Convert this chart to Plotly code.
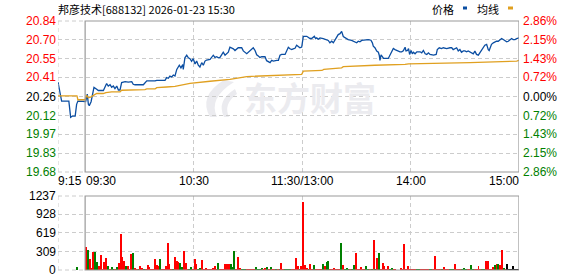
import plotly.graph_objects as go

W, H = 578, 276

title_text = "邦彦技术[688132] 2026-01-23 15:30"
prev_close = 20.26
pct_levels = [2.86, 2.15, 1.43, 0.72, 0.00, -0.72, -1.43, -2.15, -2.86]
price_labels = ["20.84", "20.70", "20.55", "20.41", "20.26", "20.12", "19.97", "19.83", "19.68"]
vol_ticks = [0, 309, 619, 928, 1237]
time_pos = [0, 15, 75, 135, 195, 255]
time_labels = ["9:15", "09:30", "10:30", "11:30/13:00", "14:00", "15:00"]
legend_labels = ["价格", "均线"]
watermark = "东方财富"

# minutes since 9:15 (lunch break collapsed at 135)
price_t = [0, 1, 2, 6, 7, 8, 9.5, 10.3, 11, 15.3, 16.2, 16.8, 17.3, 18.3, 19.2, 19.9, 21.4, 22.3,
           25.1, 26, 26.9, 27.8, 28.8, 29.7, 30.6, 31.5, 32.5, 33.4, 34.3, 35.2, 37.1, 38.9, 40.8,
           41.6, 42.6, 47.2, 48.1, 49.1, 53.7, 54.6, 59.2, 60.1, 61, 61.9, 62.9, 63.8, 64.7, 65.7,
           67.1, 68, 69, 69.3, 70.2, 71.2, 72.1, 73, 73.9, 74.8, 75.8, 76.7, 77.6, 78.5, 79.5,
           80.4, 81.3, 82.2, 84.1, 85, 85.9, 86.8, 87.8, 88.7, 89.6, 90.5, 91.4, 92.4, 93.3, 94.2,
           95.1, 96.1, 97, 97.9, 98.8, 99.7, 101.6, 102.5, 104.4, 105.3, 107.1, 108, 109, 109.9,
           110.8, 111.7, 112.7, 114.5, 115.4, 117.3, 118.2, 119.1, 121, 121.9, 122.8, 123.7,
           125.6, 126.5, 127.4, 128.3, 129.3, 130.1, 131.1, 132, 132.9, 133.8, 134.8, 135.7,
           137.6, 138.5, 139.4, 140.3, 141.2, 141.8, 142.5, 143.1, 144, 144.9, 146.7, 148.6,
           149.5, 150.4, 151.4, 152.3, 154.1, 155, 156, 156.9, 157.8, 158.7, 159.7, 160.5, 162.4,
           164.3, 165.2, 166.1, 167, 168, 169.8, 171.6, 173.1, 173.9, 174.4, 175.3, 176.3, 177.2,
           177.7, 178.1, 178.7, 179.4, 180.1, 182.7, 184.2, 185.5, 186.4, 187.3, 189.2, 190.1,
           191, 192, 192.5, 193.3, 193.9, 194.5, 195.3, 196, 196.6, 197.5, 198.5, 200.3, 201.2,
           202.1, 203.1, 204, 204.9, 205.8, 206.8, 207.7, 209.2, 209.8, 210.9, 212.2, 213.1, 215,
           216.8, 217.8, 218.6, 219.6, 220.5, 221.4, 222.3, 223.2, 224.2, 225.1, 226, 226.9,
           227.9, 228.8, 229.7, 230.6, 231.5, 232.5, 233.4, 234.3, 235.2, 236.1, 237.1, 237.4,
           238, 238.5, 239.3, 239.8, 240.8, 241.7, 242.6, 243.5, 244.5, 245.4, 246.3, 247.2,
           248.2, 249.1, 250, 250.9, 251.8, 252.8, 253.7, 255]
price_v = [20.37, 20.30, 20.225, 20.225, 20.10, 20.11, 20.11, 20.20, 20.225, 20.222, 20.278, 20.20,
           20.19, 20.22, 20.30, 20.33, 20.316, 20.306, 20.306, 20.34, 20.36, 20.34, 20.35, 20.33,
           20.34, 20.32, 20.34, 20.31, 20.31, 20.367, 20.374, 20.37, 20.374, 20.354, 20.35,
           20.35, 20.367, 20.38, 20.38, 20.384, 20.384, 20.405, 20.40, 20.417, 20.41, 20.425,
           20.417, 20.468, 20.50, 20.48, 20.506, 20.468, 20.557, 20.577, 20.557, 20.55, 20.53,
           20.55, 20.51, 20.532, 20.50, 20.486, 20.52, 20.50, 20.532, 20.54, 20.545, 20.56,
           20.577, 20.56, 20.565, 20.557, 20.56, 20.58, 20.60, 20.577, 20.587, 20.60, 20.638,
           20.634, 20.626, 20.613, 20.626, 20.634, 20.634, 20.61, 20.588, 20.60, 20.62, 20.634,
           20.613, 20.58, 20.57, 20.56, 20.565, 20.565, 20.535, 20.52, 20.537, 20.532, 20.537,
           20.537, 20.577, 20.583, 20.583, 20.61, 20.638, 20.626, 20.62, 20.626, 20.63, 20.654,
           20.645, 20.634, 20.64, 20.722, 20.722, 20.715, 20.705, 20.705, 20.715, 20.722, 20.705,
           20.71, 20.70, 20.71, 20.705, 20.697, 20.69, 20.672, 20.684, 20.672, 20.715, 20.735,
           20.742, 20.76, 20.72, 20.71, 20.705, 20.697, 20.69, 20.68, 20.672, 20.684, 20.68,
           20.69, 20.692, 20.697, 20.692, 20.672, 20.646, 20.634, 20.608, 20.60, 20.577, 20.537,
           20.58, 20.57, 20.552, 20.552, 20.588, 20.628, 20.62, 20.613, 20.603, 20.603, 20.61,
           20.638, 20.61, 20.613, 20.628, 20.583, 20.613, 20.588, 20.60, 20.588, 20.603, 20.603,
           20.595, 20.613, 20.588, 20.583, 20.595, 20.583, 20.577, 20.577, 20.583, 20.62, 20.634,
           20.628, 20.634, 20.628, 20.634, 20.634, 20.62, 20.628, 20.634, 20.61, 20.62, 20.60,
           20.61, 20.61, 20.603, 20.61, 20.603, 20.595, 20.588, 20.608, 20.583, 20.577, 20.595,
           20.62, 20.634, 20.654, 20.66, 20.638, 20.62, 20.613, 20.638, 20.66, 20.672, 20.68,
           20.684, 20.684, 20.697, 20.705, 20.697, 20.69, 20.68, 20.684, 20.697, 20.705, 20.697,
           20.697, 20.705, 20.71]

avg_t = [0, 10.5, 11, 15, 15.8, 16.8, 18, 19.5, 21.4, 25, 26.5, 29.7, 34.3, 35.2, 41.6, 42.6, 48.1,
         49.1, 53.7, 54.6, 59.2, 60.1, 64.7, 73, 84.1, 91.3, 95.1, 104.4, 115.4, 134.8, 135.7,
         146, 147, 156.9, 157.8, 174.4, 175.3, 192, 193.9, 227.9, 245.4, 253.7, 255]
avg_v = [20.265, 20.265, 20.235, 20.235, 20.27, 20.25, 20.255, 20.27, 20.283, 20.283, 20.29,
         20.295, 20.295, 20.308, 20.308, 20.313, 20.313, 20.318, 20.318, 20.328, 20.328, 20.333,
         20.338, 20.36, 20.377, 20.384, 20.392, 20.413, 20.42, 20.43, 20.455, 20.46, 20.468,
         20.48, 20.489, 20.494, 20.50, 20.506, 20.511, 20.52, 20.527, 20.532, 20.537]

vol_t = [11, 16, 17, 18, 19, 20, 21, 22, 23, 24, 25, 26, 27, 28, 29, 30, 31, 32, 33, 34, 35, 36, 37,
         38, 39, 40, 41, 42, 43, 44, 45, 46, 47, 48, 49, 50, 51, 52, 53, 54, 55, 56, 57, 58, 59, 60,
         61, 62, 63, 64, 65, 66, 67, 68, 69, 70, 71, 72, 73, 74, 75, 76, 77, 78, 79, 80, 81, 82, 83,
         84, 85, 86, 87, 88, 89, 90, 91, 92, 93, 94, 95, 96, 97, 98, 99, 100, 101, 102, 103, 104,
         105, 106, 107, 108, 109, 110, 111, 112, 113, 114, 115, 116, 117, 118, 119, 120, 121, 122,
         123, 124, 125, 126, 127, 128, 129, 130, 131, 132, 133, 134, 135, 136, 137, 138, 139, 140,
         141, 142, 143, 144, 145, 146, 147, 148, 149, 150, 151, 152, 153, 154, 155, 156, 157, 158,
         159, 160, 161, 162, 163, 164, 165, 166, 167, 168, 169, 170, 171, 172, 173, 174, 175, 176,
         177, 178, 179, 180, 181, 182, 183, 184, 185, 186, 187, 190, 191, 192, 193, 194, 195, 196,
         197, 198, 199, 200, 201, 202, 203, 204, 205, 206, 207, 208, 209, 210, 211, 212, 213, 214,
         215, 216, 217, 218, 219, 220, 221, 222, 223, 224, 225, 226, 227, 228, 229, 230, 231, 232,
         233, 234, 235, 236, 237, 238, 239, 240, 241, 242, 243, 244, 245, 246, 247, 248, 249, 250,
         251, 252, 253, 254, 255]
vol_v = [45, 378, 334, 184, 33, 300, 300, 134, 67, 250, 15, 134, 200, 67, 15, 50, 15, 15, 50, 117,
         600, 217, 150, 67, 67, 15, 267, 284, 33, 15, 15, 67, 33, 15, 15, 83, 50, 15, 15, 184, 83,
         67, 184, 15, 15, 67, 450, 100, 15, 15, 217, 150, 134, 117, 50, 317, 117, 15, 15, 50, 15,
         184, 100, 15, 33, 167, 15, 33, 15, 15, 15, 33, 67, 15, 117, 15, 15, 15, 100, 100, 100,
         100, 50, 317, 15, 217, 33, 15, 15, 15, 15, 15, 15, 15, 15, 50, 15, 15, 33, 15, 33, 50, 15,
         50, 15, 15, 15, 15, 15, 117, 15, 15, 15, 15, 15, 15, 15, 200, 67, 15, 67, 1140, 77, 20,
         15, 100, 15, 77, 15, 15, 15, 15, 100, 67, 134, 150, 15, 15, 30, 15, 15, 15, 450, 83, 15,
         30, 15, 15, 15, 83, 284, 15, 15, 50, 15, 15, 67, 15, 15, 15, 500, 15, 200, 284, 15, 117,
         67, 15, 67, 15, 33, 15, 15, 33, 15, 434, 15, 67, 15, 15, 15, 15, 15, 15, 15, 15, 15, 15,
         15, 15, 15, 15, 234, 15, 15, 15, 15, 50, 15, 15, 15, 15, 15, 100, 15, 15, 15, 15, 33, 15,
         15, 15, 83, 15, 15, 15, 67, 15, 15, 15, 150, 150, 15, 15, 50, 83, 100, 100, 83, 334, 33,
         15, 100, 15, 15, 67, 15, 15, 15, 317]
vol_up = [0, 1, 0, 1, 1, 1, 0, 0, 1, 1, 1, 1, 1, 0, 1, 0, 0, 1, 0, 1, 1, 1, 1, 0, 1, 1, 1, 0, 1, 1,
          0, 1, 1, 0, 1, 1, 1, 1, 1, 1, 1, 1, 0, 1, 1, 1, 1, 1, 1, 0, 1, 1, 1, 0, 0, 1, 1, 1, 0, 0,
          1, 1, 1, 0, 0, 1, 1, 1, 1, 1, 1, 1, 1, 1, 0, 1, 1, 1, 1, 1, 1, 0, 0, 0, 1, 1, 1, 0, 0, 0,
          1, 1, 1, 1, 1, 0, 0, 0, 0, 1, 1, 0, 1, 0, 1, 1, 0, 1, 0, 1, 1, 0, 0, 0, 0, 1, 1, 1, 1, 0,
          1, 1, 1, 1, 0, 1, 1, 0, 1, 1, 1, 1, 0, 1, 0, 0, 1, 1, 1, 1, 1, 1, 0, 1, 0, 0, 0, 1, 0, 0,
          1, 1, 1, 1, 1, 1, 0, 0, 1, 0, 1, 0, 1, 0, 1, 1, 1, 1, 1, 0, 0, 1, 1, 1, 1, 1, 1, 1, 1, 1,
          1, 1, 0, 0, 1, 1, 1, 1, 1, 0, 0, 1, 1, 1, 1, 1, 0, 1, 1, 1, 0, 0, 0, 1, 1, 1, 1, 0, 0, 0,
          1, 1, 0, 0, 1, 1, 1, 1, 0, 0, 1, 1, 1, 1, 1, 0, 1, 0, 1, 1, 0, 1]

RED, GREEN, BLACK = "#ff0000", "#008000", "#000000"
BLUE, GOLD = "#0b4ea2", "#e0a020"
GRID, FRAME = "#cccccc", "#999999"
WM = "#ebebef"
FONT = "Arial, Liberation Sans, sans-serif"
CJK = "Noto Sans CJK SC, sans-serif"


def px(x):
    return x / W


def py(y):
    return 1 - y / H


LEFT, RIGHT = 58, 519
P_TOP, P_BOT = 21, 172
V_TOP, V_BOT = 196, 270

price_levels = [prev_close * (1 + p / 100) for p in pct_levels]
p_lo, p_hi = min(price_levels), max(price_levels)
t_open, t_close = time_pos[1], time_pos[-1]

fig = go.Figure()
fig.add_trace(go.Scatter(x=price_t, y=price_v, mode="lines", line=dict(color=BLUE, width=1.3),
                         xaxis="x", yaxis="y", hoverinfo="skip"))
fig.add_trace(go.Scatter(x=avg_t, y=avg_v, mode="lines", line=dict(color=GOLD, width=1.3),
                         xaxis="x", yaxis="y", hoverinfo="skip"))
fig.add_trace(go.Bar(x=[t - 0.4 for t in vol_t], y=vol_v, width=0.55,
                     marker=dict(color=[RED if u else GREEN for u in vol_up], line=dict(width=0)),
                     xaxis="x2", yaxis="y2", hoverinfo="skip"))

grid_dash = "4px,3px"
xcommon = dict(range=[time_pos[0], t_close], domain=[px(LEFT), px(RIGHT)], showticklabels=False,
               tickvals=time_pos[2:5], showgrid=True, gridcolor=GRID, griddash=grid_dash,
               gridwidth=1, zeroline=False, showline=False, ticks="")
fig.update_layout(
    width=W, height=H, margin=dict(l=0, r=0, t=0, b=0),
    paper_bgcolor="white", plot_bgcolor="white", showlegend=False,
    xaxis=dict(**xcommon, anchor="y"),
    xaxis2=dict(**xcommon, anchor="y2"),
    yaxis=dict(range=[p_lo, p_hi], domain=[py(P_BOT), py(P_TOP)], tickvals=price_levels,
               showticklabels=False, showgrid=True, gridcolor=GRID, griddash=grid_dash,
               zeroline=False, showline=False, ticks=""),
    yaxis2=dict(range=[vol_ticks[0], vol_ticks[-1]], domain=[py(V_BOT), py(V_TOP)],
                tickvals=vol_ticks, showticklabels=False, showgrid=True, gridcolor=GRID,
                griddash=grid_dash, zeroline=False, showline=False, ticks=""),
    bargap=0,
)


def path(points):
    parts = []
    for cmd, coords in points:
        xy = " ".join(f"{px(a):.5f},{py(b):.5f}" for a, b in coords)
        parts.append(f"{cmd} {xy}")
    return " ".join(parts) + " Z"


shapes = []
# watermark swoosh icon (decoration)
shapes.append(dict(type="path", xref="paper", yref="paper", layer="below", line=dict(width=0),
                   fillcolor=WM,
                   path=path([("M", [(224, 80)]), ("Q", [(198, 96), (210, 117)]),
                              ("L", [(217, 117)]), ("Q", [(208, 98), (234, 82)])])))
shapes.append(dict(type="path", xref="paper", yref="paper", layer="below", line=dict(width=0),
                   fillcolor=WM,
                   path=path([("M", [(235, 89)]), ("Q", [(216, 101), (224, 117)]),
                              ("L", [(229, 117)]), ("Q", [(223, 104), (237, 94)])])))
for yr in ["y domain", "y2 domain"]:
    xr = "x" if yr == "y domain" else "x2"
    for yy in (0, 1):
        shapes.append(dict(type="line", xref=xr, yref=yr, x0=time_pos[0], x1=t_open, y0=yy, y1=yy,
                           line=dict(color=GRID, width=1, dash=grid_dash)))
    shapes.append(dict(type="line", xref=xr, yref=yr, x0=time_pos[0], x1=time_pos[0], y0=0, y1=1,
                       line=dict(color=GRID, width=1, dash=grid_dash)))
    shapes.append(dict(type="rect", xref=xr, yref=yr, x0=t_open, x1=t_close, y0=0, y1=1,
                       line=dict(color=FRAME, width=1.2), fillcolor="rgba(0,0,0,0)"))
# legend marks
shapes.append(dict(type="rect", xref="paper", yref="paper", x0=px(463), x1=px(467), y0=py(9.5),
                   y1=py(6.5), line=dict(width=0), fillcolor=BLUE))
shapes.append(dict(type="rect", xref="paper", yref="paper", x0=px(508), x1=px(513), y0=py(9.5),
                   y1=py(6.5), line=dict(width=0), fillcolor=GOLD))
fig.update_layout(shapes=shapes)

ann = []


def label(text, x, y, xref="paper", yref="paper", xanchor="center", color=BLACK, size=12,
          family=FONT, xshift=0):
    ann.append(dict(text=text, x=x, y=y, xref=xref, yref=yref, xanchor=xanchor, yanchor="middle",
                    showarrow=False, borderpad=0, borderwidth=0, xshift=xshift,
                    font=dict(color=color, size=size, family=family)))


# watermark text
label("<b>" + watermark + "</b>", px(310), prev_close, yref="y", color=WM, size=33, family=CJK)

for p, lvl, lab in zip(pct_levels, price_levels, price_labels):
    c = RED if p > 0 else (GREEN if p < 0 else BLACK)
    label(lab, px(56), lvl, yref="y", xanchor="right", color=c)
    label(f"{abs(p):.2f}%", px(523), lvl, yref="y", xanchor="left", color=c)
for v in vol_ticks:
    label(str(v), px(56), v, yref="y2", xanchor="right")
for i, (t, lab) in enumerate(zip(time_pos, time_labels)):
    if i == 0:
        label(lab, t, py(181), xref="x", xanchor="left")
    elif i == 1:
        label(lab, t, py(181), xref="x", xanchor="left", xshift=1)
    elif i == len(time_pos) - 1:
        label(lab, t, py(181), xref="x", xanchor="right")
    else:
        label(lab, t, py(181), xref="x", xanchor="center")

label(title_text, px(58), py(9), xanchor="left", size=11, family=CJK)
label(legend_labels[0], px(443), py(9), size=11, family=CJK)
label(legend_labels[1], px(488), py(9), size=11, family=CJK)

fig.update_layout(annotations=ann)
fig.write_html("out.html")
